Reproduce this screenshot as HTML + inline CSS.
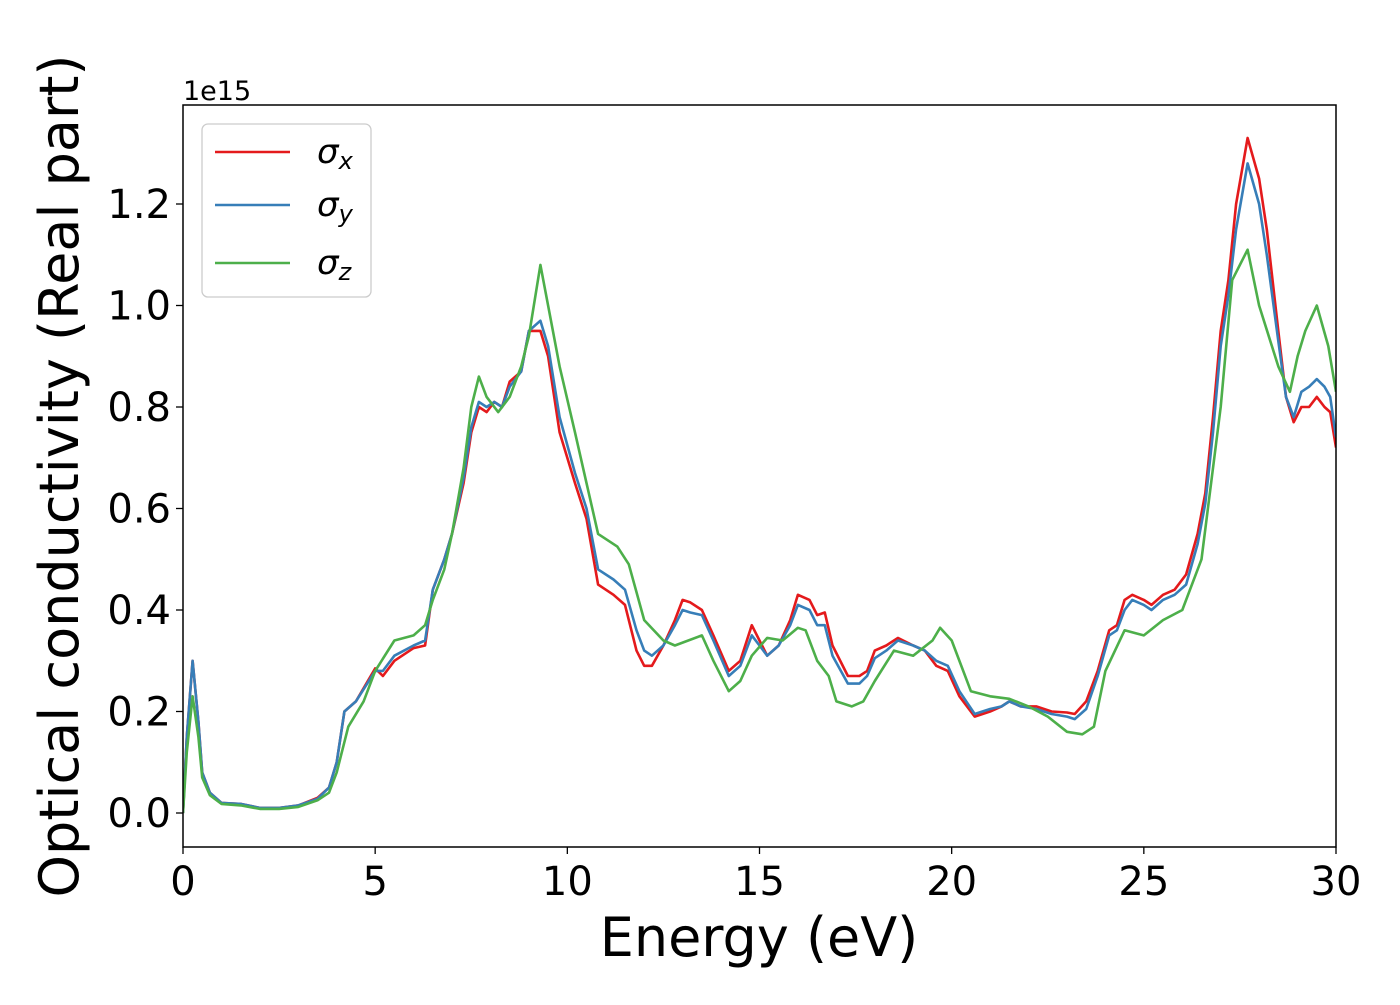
<!DOCTYPE html>
<html><head><meta charset="utf-8"><style>
body{margin:0;background:#fff;}
svg text{font-family:"DejaVu Sans","Liberation Sans",sans-serif;}
</style></head><body>
<svg id="chart" width="1400" height="1000" xmlns="http://www.w3.org/2000/svg">
<g id="plot"></g>
</svg>
<script>
const xTicks=[0,5,10,15,20,25,30];
const yTicks=[0,0.2,0.4,0.6,0.8,1.0,1.2];
const yTickLabels=["0.0","0.2","0.4","0.6","0.8","1.0","1.2"];
const exRed=[0,0.1,0.25,0.4,0.5,0.7,1.0,1.5,2.0,2.5,3.0,3.5,3.8,4.0,4.2,4.5,5.0,5.2,5.5,6.0,6.3,6.5,6.8,7.0,7.3,7.5,7.7,7.9,8.1,8.3,8.5,8.8,9.0,9.3,9.5,9.8,10.2,10.5,10.8,11.2,11.5,11.8,12.0,12.2,12.5,12.8,13.0,13.2,13.5,13.8,14.2,14.5,14.8,15.0,15.2,15.5,15.8,16.0,16.3,16.5,16.7,16.9,17.3,17.6,17.8,18.0,18.3,18.6,19.0,19.3,19.6,19.9,20.2,20.6,21.0,21.3,21.5,21.8,22.2,22.6,23.0,23.2,23.5,23.8,24.1,24.3,24.5,24.7,25.0,25.2,25.5,25.8,26.1,26.4,26.6,26.8,27.0,27.2,27.4,27.7,28.0,28.2,28.5,28.7,28.9,29.1,29.3,29.5,29.7,29.85,30];
const sigmaX=[0,0.15,0.30,0.18,0.08,0.04,0.02,0.018,0.01,0.01,0.015,0.03,0.05,0.1,0.2,0.22,0.285,0.27,0.3,0.325,0.33,0.44,0.5,0.55,0.65,0.75,0.8,0.79,0.81,0.8,0.85,0.87,0.95,0.95,0.9,0.75,0.65,0.58,0.45,0.43,0.41,0.32,0.29,0.29,0.33,0.38,0.42,0.415,0.40,0.35,0.28,0.30,0.37,0.34,0.31,0.33,0.38,0.43,0.42,0.39,0.395,0.33,0.27,0.27,0.28,0.32,0.33,0.345,0.33,0.32,0.29,0.28,0.23,0.19,0.2,0.21,0.22,0.21,0.21,0.2,0.198,0.195,0.22,0.28,0.36,0.37,0.42,0.43,0.42,0.41,0.43,0.44,0.47,0.55,0.63,0.78,0.95,1.05,1.2,1.33,1.25,1.15,0.95,0.82,0.77,0.8,0.80,0.82,0.8,0.79,0.72];
const sigmaY=[0,0.15,0.30,0.18,0.08,0.04,0.02,0.018,0.01,0.01,0.015,0.028,0.05,0.1,0.2,0.22,0.28,0.28,0.31,0.33,0.34,0.44,0.5,0.55,0.66,0.76,0.81,0.8,0.81,0.8,0.84,0.87,0.95,0.97,0.92,0.78,0.67,0.6,0.48,0.46,0.44,0.36,0.32,0.31,0.33,0.37,0.40,0.395,0.39,0.34,0.27,0.29,0.35,0.33,0.31,0.33,0.37,0.41,0.40,0.37,0.37,0.31,0.255,0.255,0.27,0.305,0.32,0.34,0.33,0.32,0.30,0.29,0.24,0.195,0.205,0.21,0.22,0.21,0.205,0.195,0.19,0.185,0.205,0.27,0.35,0.36,0.40,0.42,0.41,0.40,0.42,0.43,0.45,0.53,0.61,0.75,0.92,1.02,1.15,1.28,1.2,1.10,0.93,0.82,0.78,0.83,0.84,0.855,0.84,0.82,0.74];
const exGreen=[0,0.1,0.25,0.4,0.5,0.7,1.0,1.5,2.0,2.5,3.0,3.5,3.8,4.0,4.3,4.7,5.0,5.5,6.0,6.3,6.5,6.8,7.0,7.3,7.5,7.7,7.9,8.2,8.5,8.8,9.0,9.3,9.5,9.8,10.2,10.5,10.8,11.3,11.6,12.0,12.5,12.8,13.5,13.8,14.2,14.5,14.8,15.2,15.6,16.0,16.2,16.5,16.8,17.0,17.4,17.7,18.0,18.5,19.0,19.5,19.7,20.0,20.5,21.0,21.5,22.0,22.5,23.0,23.4,23.7,24.0,24.5,25.0,25.5,26.0,26.5,27.0,27.3,27.7,28.0,28.5,28.8,29.0,29.2,29.5,29.8,30];
const sigmaZ=[0,0.12,0.23,0.15,0.07,0.035,0.018,0.015,0.008,0.008,0.012,0.025,0.04,0.08,0.17,0.22,0.28,0.34,0.35,0.37,0.42,0.48,0.55,0.68,0.8,0.86,0.82,0.79,0.82,0.88,0.94,1.08,1.0,0.88,0.75,0.65,0.55,0.525,0.49,0.38,0.34,0.33,0.35,0.3,0.24,0.26,0.31,0.345,0.34,0.365,0.36,0.3,0.27,0.22,0.21,0.22,0.26,0.32,0.31,0.34,0.365,0.34,0.24,0.23,0.225,0.21,0.19,0.16,0.155,0.17,0.28,0.36,0.35,0.38,0.40,0.5,0.8,1.05,1.11,1.0,0.88,0.83,0.9,0.95,1.0,0.92,0.83];

const X0=183,X1=1336,Y0=105,Y1=847;
const xs=e=>X0+(e/30)*(X1-X0);
const ys=v=>813-v*507.5;
const NS="http://www.w3.org/2000/svg";
const svg=document.getElementById('chart');
function mk(tag,attrs,parent){const el=document.createElementNS(NS,tag);for(const k in attrs)el.setAttribute(k,attrs[k]);(parent||svg).appendChild(el);return el;}
const defs=mk('defs',{});
const cp=mk('clipPath',{id:'clip'},defs);
mk('rect',{x:X0,y:Y0,width:X1-X0,height:Y1-Y0},cp);
function series(ex,vals,color,name){
  let d='';
  ex.forEach((e,i)=>{d+=(i?'L':'M')+xs(e).toFixed(1)+','+ys(vals[i]).toFixed(1);});
  const p=mk('path',{d:d,fill:'none',stroke:color,'stroke-width':2.6,'stroke-linejoin':'round','clip-path':'url(#clip)'});
  
  
}
series(exRed,sigmaX,'#e41a1c','sigma-x-line');
series(exRed,sigmaY,'#377eb8','sigma-y-line');
series(exGreen,sigmaZ,'#4daf4a','sigma-z-line');
const frame=mk('rect',{x:X0,y:Y0,width:X1-X0,height:Y1-Y0,fill:'none',stroke:'#000','stroke-width':1.5});


xTicks.forEach(t=>{
  mk('line',{x1:xs(t),x2:xs(t),y1:Y1,y2:Y1+7,stroke:'#000','stroke-width':1.3});
  const tx=mk('text',{x:xs(t),y:Y1+48,'font-size':40,'text-anchor':'middle'});
  tx.textContent=t;
  
  
});
yTicks.forEach((t,i)=>{
  mk('line',{x1:X0-7,x2:X0,y1:ys(t),y2:ys(t),stroke:'#000','stroke-width':1.3});
  const tx=mk('text',{x:X0-12,y:ys(t)+14,'font-size':40,'text-anchor':'end'});
  tx.textContent=yTickLabels[i];
  
  
});
</script>
<svg style="position:absolute;left:0;top:0" width="1400" height="1000" xmlns="http://www.w3.org/2000/svg">
<text x="183" y="100" font-size="27" font-family="DejaVu Sans, Liberation Sans, sans-serif">1e15</text>
<text x="759" y="956" font-size="54" text-anchor="middle" font-family="DejaVu Sans, Liberation Sans, sans-serif">Energy (eV)</text>
<text transform="translate(78,476) rotate(-90)" font-size="54" text-anchor="middle" font-family="DejaVu Sans, Liberation Sans, sans-serif">Optical conductivity (Real part)</text>
<g>
<rect x="202" y="124" width="169" height="173" rx="6" fill="#fff" fill-opacity="0.8" stroke="#ccc" stroke-width="1.3"/>
<line x1="215" x2="290" y1="152" y2="152" stroke="#e41a1c" stroke-width="2.6"/>
<line x1="215" x2="290" y1="205" y2="205" stroke="#377eb8" stroke-width="2.6"/>
<line x1="215" x2="290" y1="263" y2="263" stroke="#4daf4a" stroke-width="2.6"/>
<text x="317" y="163" font-size="34" font-style="italic" font-family="DejaVu Sans, sans-serif">σ<tspan font-size="24" dy="6">x</tspan></text>
<text x="317" y="216" font-size="34" font-style="italic" font-family="DejaVu Sans, sans-serif">σ<tspan font-size="24" dy="6">y</tspan></text>
<text x="317" y="274" font-size="34" font-style="italic" font-family="DejaVu Sans, sans-serif">σ<tspan font-size="24" dy="6">z</tspan></text>
</g>
</svg>
</body></html>
